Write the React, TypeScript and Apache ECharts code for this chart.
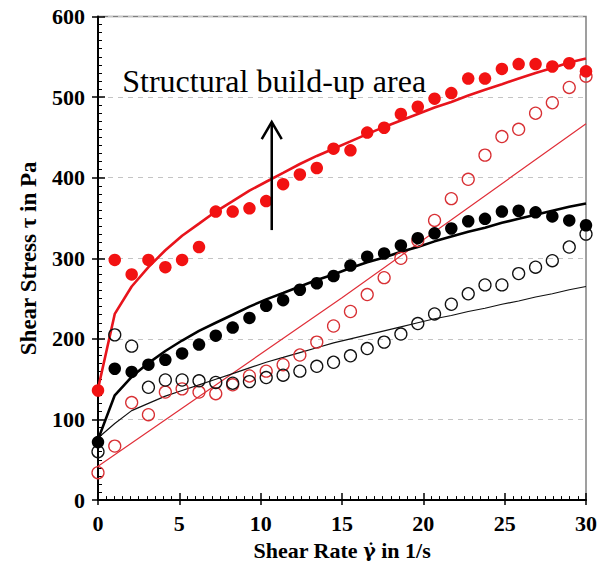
import React, { useEffect, useRef } from "react";
import * as echarts from "echarts";

// Shear rate (1/s) of the measured points
const shearRate = [0, 1.03, 2.07, 3.1, 4.14, 5.17, 6.21, 7.24, 8.28, 9.31, 10.34, 11.38, 12.41, 13.45, 14.48, 15.52, 16.55, 17.59, 18.62, 19.66, 20.69, 21.72, 22.76, 23.79, 24.83, 25.86, 26.9, 27.93, 28.97, 30];
// Measured shear stress (Pa)
const redFilled = [136, 298, 280, 298, 289, 298, 314, 358, 358, 362, 371, 392, 404, 412, 436, 434, 456, 462, 479, 488, 498, 505, 523, 523, 535, 541, 541, 538, 542, 532];
const redOpen = [34, 67, 121, 106, 134, 138, 134, 132, 143, 154, 160, 168, 180, 196, 216, 234, 255, 276, 300, 322, 347, 374, 398, 428, 451, 460, 480, 493, 512, 526];
const blackFilled = [72, 163, 159, 168, 174, 182, 193, 204, 214, 226, 241, 248, 261, 269, 278, 291, 302, 306, 316, 325, 331, 337, 346, 349, 358, 359, 357, 352, 347, 341];
const blackOpen = [60, 205, 191, 140, 149, 149, 148, 146, 145, 147, 152, 155, 160, 166, 171, 179, 188, 196, 206, 219, 231, 243, 256, 267, 267, 281, 289, 297, 314, 330];
// Fitted curves (Pa) at the same shear rates
const redFit = [138, 231, 265, 289, 310, 328, 343, 358, 371, 384, 395, 406, 417, 427, 436, 445, 454, 463, 471, 479, 487, 494, 502, 509, 516, 523, 530, 536, 543, 548];
const blackFit = [75, 130, 153, 170, 185, 198, 210, 220, 230, 240, 249, 257, 265, 273, 280, 288, 295, 301, 308, 314, 321, 327, 333, 338, 344, 349, 354, 359, 364, 368];
const blackThinFit = [77, 95, 111, 120, 129, 136, 143, 150, 157, 164, 171, 177, 183, 189, 195, 200, 205, 210, 215, 220, 225, 229, 234, 238, 243, 247, 252, 256, 261, 265];
const redThinX = [0, 15, 30];
const redThinY = [42, 251, 467];

const xTicks = { min: 0, max: 30, interval: 5 };
const yTicks = { min: 0, max: 600, interval: 100 };

const annotationText = "Structural build-up area";
const annotationAt = [1.49, 520];
const arrowFrom = [10.68, 335];
const arrowTo = [10.68, 469];

const FONT = "'Liberation Serif', 'Times New Roman', serif";

const pair = (xs: number[], ys: number[]) => xs.map((x, i) => [x, ys[i]]);

export default function App() {
  const ref = useRef<HTMLDivElement>(null);
  useEffect(() => {
    if (!ref.current) return;
    const chart = echarts.init(ref.current, undefined, { renderer: "svg" });
    const labelStyle = { color: "#000", fontFamily: FONT, fontWeight: "bold" as const, fontSize: 22 };
    const outerAxisX = {
      type: "value", ...xTicks, position: "bottom",
      axisLine: { show: false }, axisLabel: { show: false }, splitLine: { show: false },
      axisTick: { show: true, inside: false, length: 5, lineStyle: { color: "#000", width: 1.5 } },
    };
    const outerAxisY = {
      type: "value", ...yTicks, position: "left",
      axisLine: { show: false }, axisLabel: { show: false }, splitLine: { show: false },
      axisTick: { show: true, inside: false, length: 6, lineStyle: { color: "#000", width: 1.5 } },
    };
    const option: any = {
      animation: false,
      backgroundColor: "#fff",
      grid: { left: 98, right: 19, top: 16.5, bottom: 60.5, show: true, borderColor: "#808080", borderWidth: 1.5, backgroundColor: "transparent" },
      xAxis: [
        {
          type: "value", ...xTicks, position: "bottom",
          name: "{a|Shear Rate }{g|\u03b3\u0307}{a| in 1/s}", nameLocation: "middle", nameGap: 30,
          nameTextStyle: {
            ...labelStyle,
            rich: {
              a: { fontFamily: FONT, fontWeight: "bold", fontSize: 22, color: "#000" },
              g: { fontFamily: "'DejaVu Serif', serif", fontWeight: "bold", fontSize: 19, color: "#000" },
            },
          },
          axisLine: { show: true, lineStyle: { color: "#000", width: 2 } },
          axisTick: { show: true, inside: true, length: 7, lineStyle: { color: "#000", width: 1.5 } },
          minorTick: { show: true, splitNumber: 10, length: 4, lineStyle: { color: "#000", width: 1 } },
          axisLabel: { ...labelStyle, margin: 12 },
          splitLine: { show: false },
        },
        outerAxisX,
      ],
      yAxis: [
        {
          type: "value", ...yTicks, position: "left",
          name: "Shear Stress \u03c4 in Pa", nameLocation: "middle", nameGap: 58,
          nameTextStyle: { ...labelStyle, fontSize: 23 },
          axisLine: { show: true, lineStyle: { color: "#000", width: 2 } },
          axisTick: { show: true, inside: true, length: 7, lineStyle: { color: "#000", width: 1.5 } },
          minorTick: { show: true, splitNumber: 10, length: 4, lineStyle: { color: "#000", width: 1 } },
          axisLabel: { ...labelStyle, margin: 13 },
          splitLine: { show: true, lineStyle: { color: "#c4c4c4", width: 1, type: [5, 5] } },
        },
        outerAxisY,
      ],
      series: [
        { type: "line", data: pair(redThinX, redThinY), showSymbol: false, lineStyle: { color: "#e0303a", width: 1.2 }, z: 2 },
        { type: "line", data: pair(shearRate, blackThinFit), showSymbol: false, lineStyle: { color: "#111", width: 1.2 }, z: 2 },
        { type: "line", data: pair(shearRate, redFit), showSymbol: false, lineStyle: { color: "#e8141c", width: 2.6 }, z: 2 },
        { type: "line", data: pair(shearRate, blackFit), showSymbol: false, lineStyle: { color: "#000", width: 2.6 }, z: 2 },
        { type: "scatter", data: pair(shearRate, redOpen), symbol: "circle", symbolSize: 12, itemStyle: { color: "rgba(255,255,255,0)", borderColor: "#d83034", borderWidth: 1.3, opacity: 1 }, z: 3 },
        { type: "scatter", data: pair(shearRate, blackOpen), symbol: "circle", symbolSize: 12, itemStyle: { color: "rgba(255,255,255,0)", borderColor: "#111", borderWidth: 1.3, opacity: 1 }, z: 3 },
        { type: "scatter", data: pair(shearRate, redFilled), symbol: "circle", symbolSize: 12.5, itemStyle: { color: "#f21212", opacity: 1 }, z: 4 },
        { type: "scatter", data: pair(shearRate, blackFilled), symbol: "circle", symbolSize: 12.5, itemStyle: { color: "#000", opacity: 1 }, z: 4 },
      ],
    };
    chart.setOption(option);
    const tp = chart.convertToPixel({ gridIndex: 0 }, annotationAt) as number[];
    const a0 = chart.convertToPixel({ gridIndex: 0 }, arrowFrom) as number[];
    const a1 = chart.convertToPixel({ gridIndex: 0 }, arrowTo) as number[];
    chart.setOption({
      graphic: [
        { type: "text", x: tp[0], y: tp[1], z: 10, style: { text: annotationText, fontFamily: FONT, fontSize: 32, fill: "#000", align: "left", verticalAlign: "middle" } },
        { type: "line", z: 10, shape: { x1: a0[0], y1: a0[1], x2: a1[0], y2: a1[1] }, style: { stroke: "#000", lineWidth: 2.5 } },
        { type: "polyline", z: 10, shape: { points: [[a1[0] - 10, a1[1] + 17], [a1[0], a1[1]], [a1[0] + 10, a1[1] + 17]] }, style: { stroke: "#000", lineWidth: 2.5, fill: "none" } },
      ],
    });
    return () => chart.dispose();
  }, []);
  return <div ref={ref} style={{ position: "fixed", left: 0, top: 0, width: 605, height: 566, background: "#fff" }} />;
}
